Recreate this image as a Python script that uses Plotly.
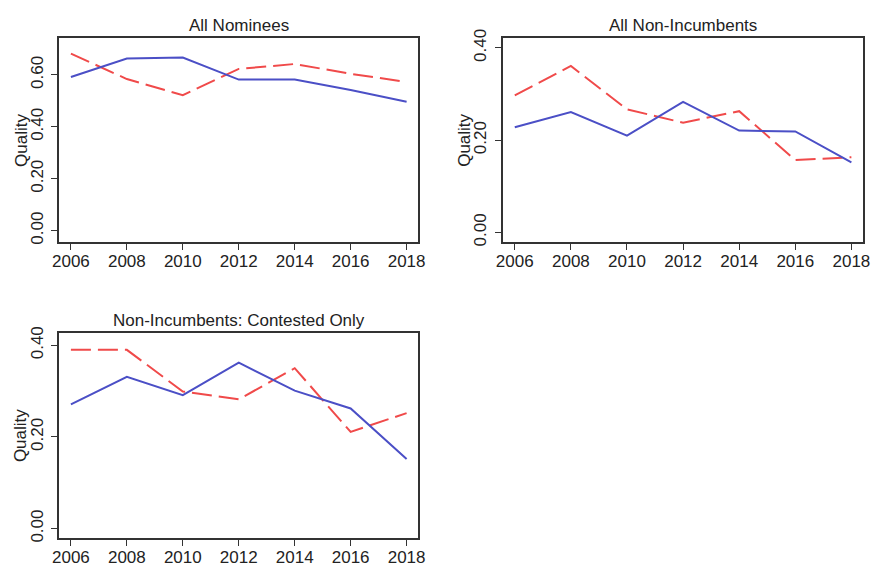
import plotly.graph_objects as go

years = [2006, 2008, 2010, 2012, 2014, 2016, 2018]

all_nominees_blue = [0.592, 0.663, 0.667, 0.582, 0.582, 0.542, 0.497]
all_nominees_red = [0.682, 0.584, 0.522, 0.623, 0.642, 0.604, 0.573]

non_inc_blue = [0.228, 0.261, 0.210, 0.283, 0.221, 0.219, 0.152]
non_inc_red = [0.297, 0.361, 0.267, 0.238, 0.263, 0.157, 0.163]

contested_blue = [0.271, 0.331, 0.291, 0.362, 0.301, 0.262, 0.152]
contested_red = [0.390, 0.390, 0.299, 0.282, 0.350, 0.211, 0.252]

titles = ["All Nominees", "All Non-Incumbents", "Non-Incumbents: Contested Only"]
y_tick_vals = [[0.0, 0.2, 0.4, 0.6], [0.0, 0.2, 0.4], [0.0, 0.2, 0.4]]
y_tick_text = [["0.00", "0.20", "0.40", "0.60"], ["0.00", "0.20", "0.40"], ["0.00", "0.20", "0.40"]]
y_ranges = [[-0.044, 0.741], [-0.021, 0.421], [-0.02, 0.427]]

W, H = 881, 573
BLUE = "#4b4fc6"
RED = "#f04a4a"
FONT = "Liberation Sans, Arial, sans-serif"
TXT = "#222222"

# panel boxes in pixel coords: (left, right, top, bottom)
boxes = [(53, 418, 30, 239), (504, 870, 30, 239), (53, 418, 332, 542)]
series = [(all_nominees_blue, all_nominees_red), (non_inc_blue, non_inc_red), (contested_blue, contested_red)]

fig = go.Figure()
annotations = []
for i, ((l, r, t, b), (bl, rd)) in enumerate(zip(boxes, series)):
    k = "" if i == 0 else str(i + 1)
    xa, ya = "x" + k, "y" + k
    fig.add_trace(go.Scatter(x=years, y=rd, mode="lines", xaxis=xa, yaxis=ya,
                             line=dict(color=RED, width=2, dash="20px,7px"), showlegend=False))
    fig.add_trace(go.Scatter(x=years, y=bl, mode="lines", xaxis=xa, yaxis=ya,
                             line=dict(color=BLUE, width=2), showlegend=False))
    axis_common = dict(showline=True, mirror=True, linecolor="#333333", linewidth=1.5,
                       ticks="outside", ticklen=6, tickwidth=1.2, tickcolor="#333333",
                       showgrid=False, zeroline=False,
                       tickfont=dict(family=FONT, size=17, color=TXT))
    fig.update_layout(**{
        "xaxis" + k: dict(domain=[l / W, r / W], range=[2005.58, 2018.42], anchor=ya,
                          tickvals=years, ticktext=[str(y) for y in years],
                          ticklabelstandoff=-3, **axis_common),
        "yaxis" + k: dict(domain=[1 - b / H, 1 - t / H], range=y_ranges[i], anchor=xa,
                          tickvals=y_tick_vals[i], ticktext=y_tick_text[i], tickangle=-90,
                          ticklabelstandoff=2, **axis_common),
    })
    annotations.append(dict(text=titles[i], x=(l + r) / 2 / W, y=1 - (t - 13) / H,
                            xref="paper", yref="paper", showarrow=False,
                            xanchor="center", yanchor="middle",
                            font=dict(family=FONT, size=17, color=TXT)))
    annotations.append(dict(text="Quality", x=(l - 39) / W, y=1 - (t + b) / 2 / H,
                            xref="paper", yref="paper", showarrow=False, textangle=-90,
                            xanchor="center", yanchor="middle",
                            font=dict(family=FONT, size=17, color=TXT)))

fig.update_layout(width=W, height=H, margin=dict(l=0, r=0, t=0, b=0),
                  paper_bgcolor="white", plot_bgcolor="white", annotations=annotations)
fig.write_html("out.html")
